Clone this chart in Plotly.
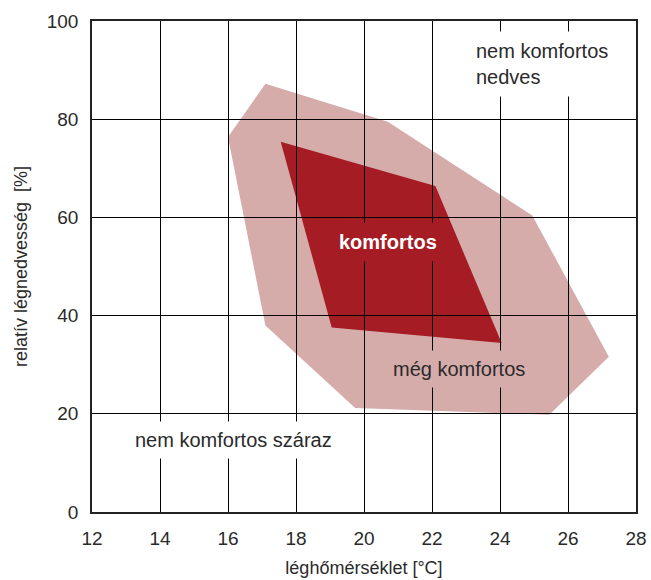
import plotly.graph_objects as go

# data
outer_x = [16.0, 17.1, 20.7, 24.95, 27.2, 25.45, 19.74, 17.1]
outer_y = [76.4, 87.2, 79.5, 60.4, 31.6, 19.8, 21.2, 38.0]
inner_x = [17.55, 22.1, 24.05, 19.05]
inner_y = [75.4, 66.4, 34.4, 37.6]
x_ticks = [12, 14, 16, 18, 20, 22, 24, 26, 28]
y_ticks = [0, 20, 40, 60, 80, 100]

LIGHT = "#d6acab"
DARK = "#a51c24"
FONT = "Liberation Sans"
TXT = "#2a2a2a"


def path(xs, ys):
    pts = [f"{x},{y}" for x, y in zip(xs, ys)]
    return "M " + " L ".join(pts) + " Z"


fig = go.Figure()
fig.add_trace(go.Scatter(x=[12, 28], y=[0, 100], mode="markers",
                         marker=dict(opacity=0), hoverinfo="skip", showlegend=False))

fig.add_shape(type="path", path=path(outer_x, outer_y), xref="x", yref="y",
              fillcolor=LIGHT, line=dict(width=0), layer="below")
fig.add_shape(type="path", path=path(inner_x, inner_y), xref="x", yref="y",
              fillcolor=DARK, line=dict(width=0), layer="below")

ann = [
    dict(x=20.7, y=55, text="<b>komfortos</b>", font=dict(color="white", size=20, family=FONT),
         bgcolor=DARK, borderpad=8),
    dict(x=22.8, y=29.2, text="még komfortos", font=dict(color=TXT, size=20, family=FONT),
         bgcolor=LIGHT, borderpad=7),
    dict(x=23.04, y=91.2, text="nem komfortos<br>nedves", xanchor="left", align="left",
         font=dict(color=TXT, size=20, family=FONT), bgcolor="white", borderpad=8),
    dict(x=16.15, y=14.7, text="nem komfortos száraz", font=dict(color=TXT, size=20, family=FONT),
         bgcolor="white", borderpad=7),
]
for a in ann:
    fig.add_annotation(showarrow=False, xref="x", yref="y", **a)

axis_common = dict(showgrid=True, gridcolor="black", gridwidth=1, zeroline=False,
                   showline=True, linecolor="#222", linewidth=1.5, mirror=True,
                   ticks="outside", ticklen=8, tickcolor="rgba(0,0,0,0)", automargin=False,
                   tickfont=dict(size=19, color=TXT, family=FONT))

fig.update_xaxes(range=[12, 28], tickvals=x_ticks, **axis_common,
                 title=dict(text="léghőmérséklet [°C]", font=dict(size=18, color=TXT, family=FONT),
                            standoff=14))
fig.update_yaxes(range=[0, 100], tickvals=y_ticks, **axis_common,
                 title=dict(text="relatív légnedvesség  [%]", font=dict(size=18, color=TXT, family=FONT),
                            standoff=14))

fig.update_layout(width=651, height=580, margin=dict(l=92, r=15, t=21, b=68),
                  plot_bgcolor="rgba(0,0,0,0)", paper_bgcolor="white", showlegend=False)

fig.write_html("out.html", config={"displayModeBar": False},
               post_script="document.body.style.margin='0';document.body.style.overflow='hidden';")
